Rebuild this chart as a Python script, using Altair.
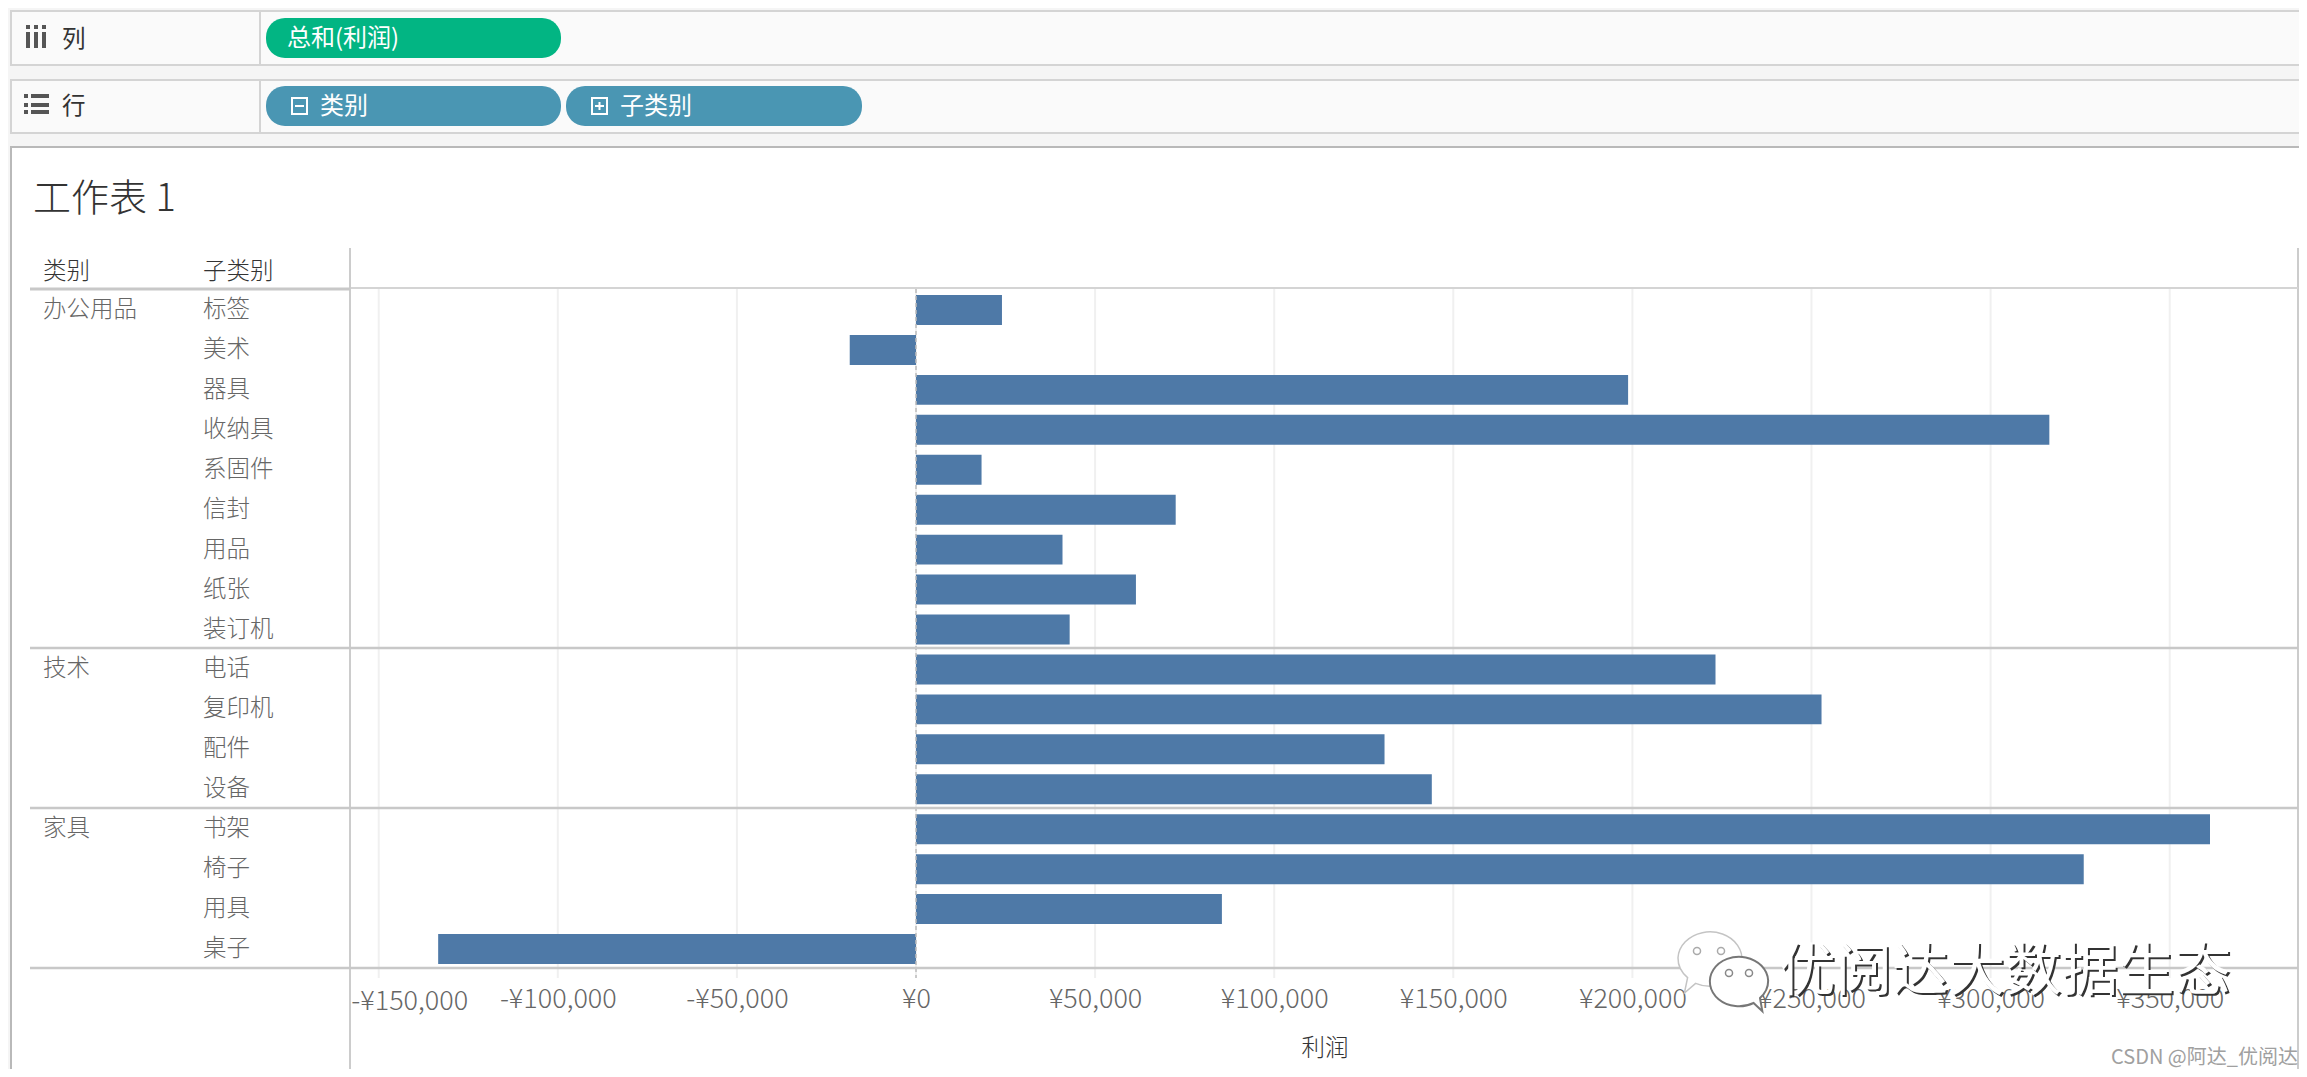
import altair as alt
import pandas as pd

# ---- chart values ----
categories = ["办公用品"] * 9 + ["技术"] * 4 + ["家具"] * 4
subcats = ["标签", "美术", "器具", "收纳具", "系固件", "信封", "用品", "纸张", "装订机",
           "电话", "复印机", "配件", "设备", "书架", "椅子", "用具", "桌子"]
profit = [24000, -18500, 198800, 316400, 18300, 72500, 40900, 61400, 42900,
          223200, 252800, 130800, 144000, 361250, 326000, 85400, -133400]
tick_values = [-150000, -100000, -50000, 0, 50000, 100000, 150000, 200000, 250000, 300000, 350000]
first_tick_label = "-¥150,000"
sheet_title = "工作表 1"
col_shelf = "总和(利润)"
row_shelf = ["类别", "子类别"]

FONT = "Noto Sans CJK SC"
W, H = 2291, 1061
M = 8  # page margin: helper coordinates below are page pixels

df = pd.DataFrame({"cat": categories, "sub": subcats, "profit": profit})
first_rows = df.drop_duplicates("cat")
ticks_df = pd.DataFrame({"v": tick_values})
one = pd.DataFrame({"a": [0]})

x_scale = alt.Scale(domain=[-157733, 385818], range=[343, 2290], nice=False, zero=False)
y_scale = alt.Scale(domain=subcats, range=[282, 961], paddingInner=0.25, paddingOuter=0.125)
x_axis = alt.Axis(values=tick_values[1:], grid=False, domain=False, ticks=False,
                  labelExpr="(datum.value<0?'-':'')+'¥'+format(abs(datum.value),',')",
                  labelFont=FONT, labelFontSize=27, labelFontWeight=300, labelColor="#666666",
                  labelPadding=18, labelOverlap=False, labelFlush=False, labelBaseline="top",
                  offset=960 - H, titleFont=FONT, titleFontSize=23.5, titleFontWeight=300,
                  titleColor="#333333", titlePadding=24)


def X(field):
    return alt.X(field, scale=x_scale, stack=None, title="利润", axis=x_axis)


def rect(x0, y0, x1, y1, fill, stroke=None, sw=0, radius=0):
    kw = dict(fill=fill, cornerRadius=radius)
    if stroke:
        kw.update(stroke=stroke, strokeWidth=sw)
    return alt.Chart(one).mark_rect(**kw).encode(
        x=alt.value(x0 - M), x2=alt.value(x1 - M), y=alt.value(y0 - M), y2=alt.value(y1 - M))


def hline(x0, x1, y, color, sw=2):
    return alt.Chart(one).mark_rule(color=color, strokeWidth=sw).encode(
        x=alt.value(x0 - M), x2=alt.value(x1 - M), y=alt.value(y - M))


def vline(x, y0, y1, color, sw=2):
    return alt.Chart(one).mark_rule(color=color, strokeWidth=sw).encode(
        x=alt.value(x - M), y=alt.value(y0 - M), y2=alt.value(y1 - M))


def label(x, y, text, size, color, align="left", weight=300, **extra):
    return alt.Chart(one).mark_text(
        text=text, font=FONT, fontSize=size, color=color, align=align, baseline="middle",
        fontWeight=weight, **extra).encode(x=alt.value(x - M), y=alt.value(y - M))


def blob(x, y, path, size, stroke, sw=1.5):
    return alt.Chart(one).mark_point(shape=path, size=size, filled=True, fill="white", opacity=1,
                                     stroke=stroke, strokeWidth=sw).encode(
        x=alt.value(x - M), y=alt.value(y - M))


layers = []
# gridlines come first
layers.append(alt.Chart(ticks_df).mark_rule(color="#f0f0f0", strokeWidth=2).encode(
    x=X("v:Q"), y=alt.value(289 - M), y2=alt.value(978 - M)))

# window background and shelves (only above and left of the worksheet)
layers.append(rect(8, 8, 2307, 147, "#f5f5f5"))
layers.append(rect(8, 147, 10, 1077, "#f5f5f5"))
for top, bottom in [(11, 65), (80, 133)]:
    layers.append(rect(11, top, 2310, bottom, "#fafafa", "#d4d4d4", 2))
    layers.append(vline(260, top, bottom, "#d4d4d4"))
layers.append(hline(10, 2299, 147, "#b9b9b9"))
layers.append(vline(11, 147, 1077, "#b9b9b9"))

# shelf icons: columns
for xc in (28, 36, 44):
    layers.append(rect(xc - 2, 32, xc + 2, 48, "#555555"))
    layers.append(rect(xc - 2, 25, xc + 2, 29, "#555555"))
# shelf icons: rows
for yc in (96, 105, 112):
    layers.append(rect(31, yc - 2, 49, yc + 2, "#555555"))
    layers.append(rect(24, yc - 2, 28, yc + 2, "#555555"))
layers.append(label(62, 40, "列", 23.5, "#333333", weight=400))
layers.append(label(62, 107, "行", 23.5, "#333333", weight=400))

# pills
layers.append(rect(266, 18, 561, 58, "#02b583", radius=19))
layers.append(rect(266, 86, 561, 126, "#4a96b3", radius=19))
layers.append(rect(566, 86, 862, 126, "#4a96b3", radius=19))
layers.append(label(287, 39, col_shelf, 24, "white", weight=400))
layers.append(rect(292, 98, 307, 114, "transparent", "white", 2))
layers.append(hline(295, 304, 106, "white", 2))
layers.append(label(320, 107, row_shelf[0], 24, "white", weight=400))
layers.append(rect(592, 98, 607, 114, "transparent", "white", 2))
layers.append(hline(595, 604, 106, "white", 2))
layers.append(vline(599.5, 102, 110, "white", 2))
layers.append(label(620, 107, row_shelf[1], 24, "white", weight=400))

# worksheet title and headers
layers.append(label(33, 200, sheet_title, 38, "#333333"))
layers.append(label(43, 272, row_shelf[0], 23.5, "#333333"))
layers.append(label(203, 272, row_shelf[1], 23.5, "#333333"))

# bars
layers.append(alt.Chart(df).mark_bar(color="#4e79a7").encode(
    x=X("profit:Q"),
    y=alt.Y("sub:N", scale=y_scale, axis=None, title=None),
))
# the leftmost tick label is nudged inside the pane in the reference
layers.append(alt.Chart(pd.DataFrame({"v": [tick_values[0]], "t": [first_tick_label]})).mark_text(
    font=FONT, fontSize=27, fontWeight=300, color="#666666", align="center", baseline="middle", dx=31
).encode(x=X("v:Q"), y=alt.value(1002 - M), text="t:N"))

# zero line
layers.append(alt.Chart(pd.DataFrame({"v": [0]})).mark_rule(
    color="#bdbdbd", strokeWidth=1.5, strokeDash=[4, 3]).encode(
    x=X("v:Q"), y=alt.value(289 - M), y2=alt.value(978 - M)))

# table lines
layers.append(vline(350, 248, 1077, "#cccccc"))
layers.append(vline(2298, 248, 1077, "#cccccc"))
layers.append(hline(351, 2298, 288, "#d4d4d4", 2))
layers.append(hline(30, 350, 289, "#c8c8c8", 3))
for y in (648, 808, 968):
    layers.append(hline(30, 2298, y, "#c8c8c8", 2.5))

# row labels through the y scale
layers.append(alt.Chart(df).mark_text(
    font=FONT, fontSize=23.5, fontWeight=300, color="#666666", align="left", baseline="middle"
).encode(x=alt.value(203 - M), y=alt.Y("sub:N", scale=y_scale, axis=None), text="sub:N"))
layers.append(alt.Chart(first_rows).mark_text(
    font=FONT, fontSize=23.5, fontWeight=300, color="#666666", align="left", baseline="middle"
).encode(x=alt.value(43 - M), y=alt.Y("sub:N", scale=y_scale, axis=None), text="cat:N"))

# watermark
big = "M-1,-0.1 A1,0.85 0 1,1 -0.45,0.7 L-0.8,1 L-0.7,0.52 A1,0.85 0 0,1 -1,-0.1 Z"
small = "M1,-0.05 A1,0.85 0 1,0 0.5,0.72 L0.8,1 L0.72,0.55 A1,0.85 0 0,0 1,-0.05 Z"
layers.append(blob(1710, 961, big, 4096, "#c4c4c4"))
layers.append(blob(1739, 982, small, 3400, "#777777", 2))
for ex, ey, c in [(1697, 951, "#aaaaaa"), (1721, 951, "#aaaaaa"), (1729, 973, "#888888"), (1749, 973, "#888888")]:
    layers.append(alt.Chart(one).mark_point(size=50, filled=True, fill="white", opacity=1, stroke=c, strokeWidth=1.5)
                  .encode(x=alt.value(ex - M), y=alt.value(ey - M)))
wm = "优阅达大数据生态"
layers.append(label(1781, 975, wm, 56.5, "#333333", weight=400))
layers.append(label(1779, 973, wm, 56.5, "white", weight=400))
layers.append(label(2111, 1058, "CSDN @阿达_优阅达", 20, "#a0a0a0", weight=400))

chart = alt.layer(*layers).properties(
    width=W, height=H, padding=0, autosize=alt.AutoSizeParams(type="none"), background="white"
).configure_view(stroke=None)

chart.save("out.html", embed_options={"renderer": "svg", "actions": False})
